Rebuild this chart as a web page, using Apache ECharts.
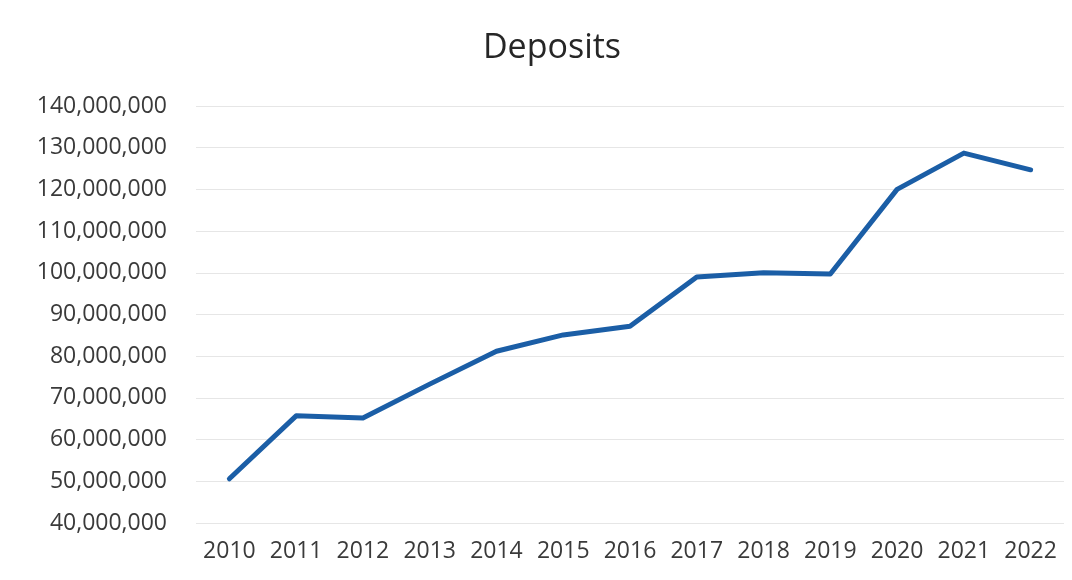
<!DOCTYPE html>
<html>
<head>
<meta charset="utf-8">
<script src="https://cdn.jsdelivr.net/npm/echarts@6/dist/echarts.min.js"></script>
<style>
  html, body { margin: 0; padding: 0; background: #fff; }
  #chart { width: 1072px; height: 580px; }
</style>
</head>
<body>
<div id="chart"></div>
<script>
var years = ['2010', '2011', '2012', '2013', '2014', '2015', '2016', '2017', '2018', '2019', '2020', '2021', '2022'];
var deposits = [50600000, 65700000, 65200000, 73300000, 81200000, 85100000, 87200000, 99000000, 100000000, 99700000, 120000000, 128700000, 124700000];

var chartDom = document.getElementById('chart');
var myChart = echarts.init(chartDom);
var option;
option = {
  title: {
    text: 'Deposits',
    left: 547,
    textAlign: 'center',
    top: 26,
    textStyle: {
      fontFamily: 'Open Sans',
      fontSize: 34,
      fontWeight: 'normal',
      color: '#262626'
    }
  },
  grid: {
    left: 196,
    right: 8,
    top: 106,
    bottom: 57
  },
  xAxis: {
    type: 'category',
    data: years,
    boundaryGap: true,
    axisLine: { show: false },
    axisTick: { show: false },
    axisLabel: {
      interval: 0,
      margin: 17,
      fontFamily: 'Open Sans',
      fontSize: 23,
      color: '#3a3a3a'
    }
  },
  yAxis: {
    type: 'value',
    min: 40000000,
    max: 140000000,
    interval: 10000000,
    axisLine: { show: false },
    axisTick: { show: false },
    splitLine: { lineStyle: { color: '#e6e6e6', width: 1 } },
    axisLabel: {
      margin: 29,
      fontFamily: 'Open Sans',
      fontSize: 23,
      color: '#3a3a3a',
      formatter: function (v) { return v.toLocaleString('en-US'); }
    }
  },
  series: [
    {
      name: 'Deposits',
      type: 'line',
      data: deposits,
      symbol: 'none',
      lineStyle: { color: '#1b5ea6', width: 5, cap: 'round', join: 'round' }
    }
  ]
};

option && myChart.setOption(option);
</script>
</body>
</html>
